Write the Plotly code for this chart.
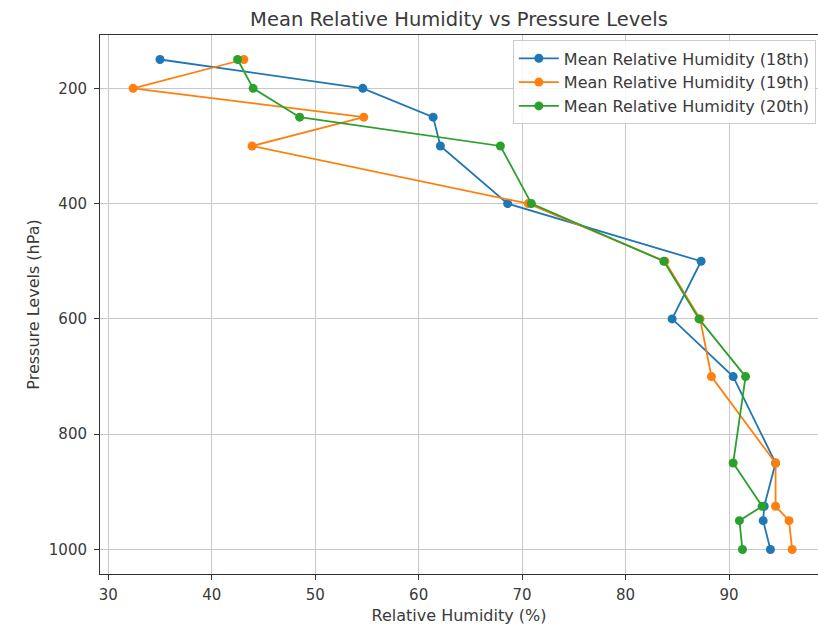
import plotly.graph_objects as go

# Pressure levels (hPa) and mean relative humidity (%) for each day
pressure_levels = [150, 200, 250, 300, 400, 500, 600, 700, 850, 925, 950, 1000]
rh_18th = [35.0, 54.6, 61.4, 62.1, 68.6, 87.3, 84.5, 90.4, 94.5, 93.4, 93.3, 94.0]
rh_19th = [43.1, 32.4, 54.7, 43.9, 70.6, 83.8, 87.2, 88.3, 94.5, 94.5, 95.8, 96.1]
rh_20th = [42.5, 44.0, 48.5, 67.9, 70.9, 83.7, 87.1, 91.6, 90.4, 93.2, 91.0, 91.3]

series_names = ["Mean Relative Humidity (18th)",
                "Mean Relative Humidity (19th)",
                "Mean Relative Humidity (20th)"]
colors = ["#1f77b4", "#ff7f0e", "#2ca02c"]

x_ticks = [30, 40, 50, 60, 70, 80, 90]
y_ticks = [200, 400, 600, 800, 1000]

font_family = "DejaVu Sans, sans-serif"
text_color = "#3a3a3a"

fig = go.Figure()
for name, vals, col in zip(series_names, [rh_18th, rh_19th, rh_20th], colors):
    fig.add_trace(go.Scatter(
        x=vals, y=pressure_levels, mode="lines+markers", name=name,
        line=dict(color=col, width=1.8),
        marker=dict(color=col, size=9, symbol="circle"),
    ))

fig.update_layout(
    width=818, height=627,
    margin=dict(l=100, r=0, t=35, b=53),
    paper_bgcolor="white", plot_bgcolor="white",
    font=dict(family=font_family, size=15, color=text_color),
    title=dict(text="Mean Relative Humidity vs Pressure Levels",
               x=0.5, xref="paper", xanchor="center",
               y=1 - 19 / 627, yref="container", yanchor="middle",
               font=dict(size=19.5, color=text_color)),
    legend=dict(x=0.997, y=0.99, xanchor="right", yanchor="top",
                bgcolor="rgba(255,255,255,0.85)", bordercolor="#cccccc",
                borderwidth=1, font=dict(size=16, color=text_color),
                itemwidth=40, tracegroupgap=0),
    showlegend=True,
)

fig.update_xaxes(
    range=[29.2, 98.6], tickvals=x_ticks,
    title=dict(text="Relative Humidity (%)", standoff=6, font=dict(size=16)),
    showgrid=True, gridcolor="#c8c8c8", gridwidth=1,
    showline=True, linecolor="#333333", linewidth=1, mirror=True,
    ticks="outside", ticklen=5, tickcolor="#333333", ticklabelstandoff=2,
    zeroline=False,
)
fig.update_yaxes(
    range=[1042.5, 107.5], tickvals=y_ticks,
    title=dict(text="Pressure Levels (hPa)", standoff=5, font=dict(size=16)),
    showgrid=True, gridcolor="#c8c8c8", gridwidth=1,
    showline=True, linecolor="#333333", linewidth=1, mirror=False,
    ticks="outside", ticklen=5, tickcolor="#333333", ticklabelstandoff=4,
    zeroline=False,
)

fig.write_html("out.html")
